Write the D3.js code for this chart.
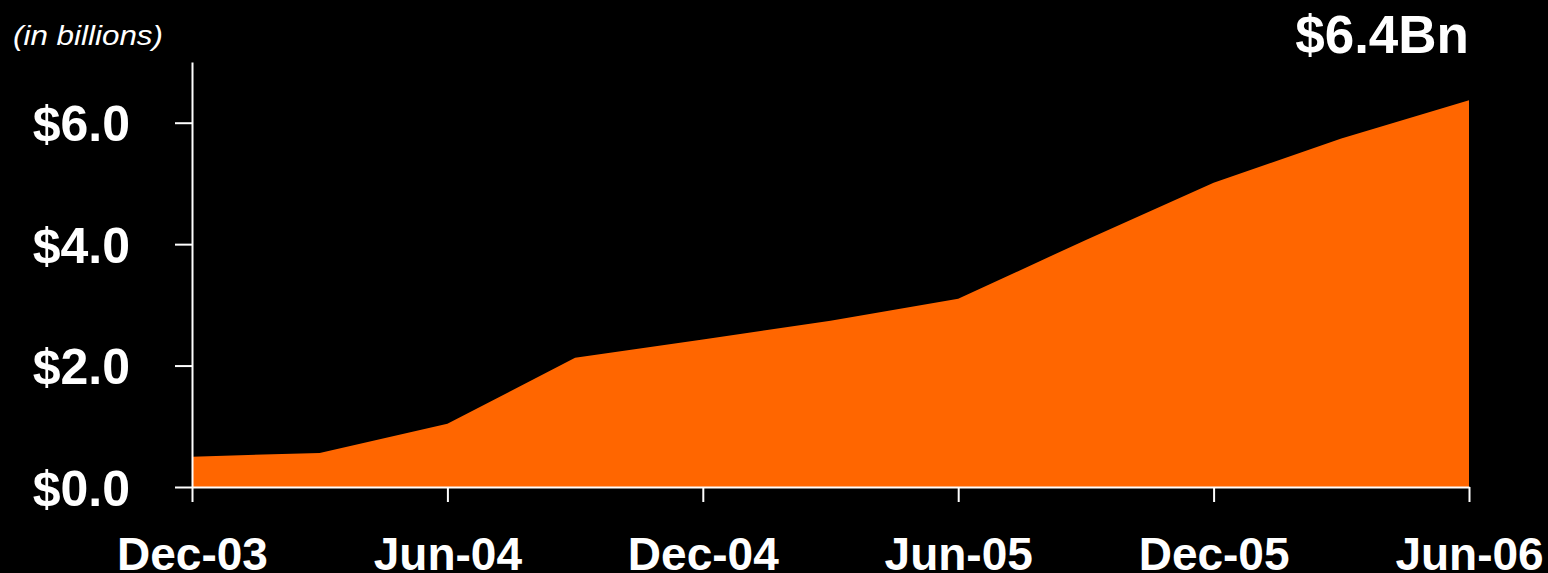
<!DOCTYPE html>
<html>
<head>
<meta charset="utf-8">
<script src="https://cdn.jsdelivr.net/npm/d3@7"></script>
<style>
  body { margin: 0; background: #000; }
  svg { display: block; font-family: "Liberation Sans", Arial, sans-serif; }
  .axis path, .axis line { stroke: #fff; stroke-width: 2; }
  .axis text { fill: #fff; font-weight: bold; }
</style>
</head>
<body>
<script>
const width = 1548,
  height = 573;

// Quarter ends, Dec-03 .. Jun-06
const quarters = ["Dec-03", "Mar-04", "Jun-04", "Sep-04", "Dec-04", "Mar-05",
  "Jun-05", "Sep-05", "Dec-05", "Mar-06", "Jun-06"];
const values = [0.5, 0.56, 1.04, 2.13, 2.43, 2.74, 3.1, 4.07, 5.01, 5.74, 6.37];
const xTickLabels = ["Dec-03", "Jun-04", "Dec-04", "Jun-05", "Dec-05", "Jun-06"];
const yTicks = [0, 2, 4, 6];

const data = quarters.map((q, i) => ({ q, v: values[i] }));

const x = d3.scalePoint().domain(quarters).range([192, 1469]);
const y = d3.scaleLinear().domain([0, 7]).range([487, 62]);

const svg = d3
  .select("body")
  .append("svg")
  .attr("width", width)
  .attr("height", height);

svg.append("rect").attr("width", width).attr("height", height).attr("fill", "#000");

// Filled area
const area = d3
  .area()
  .x((d) => x(d.q))
  .y0(y(0))
  .y1((d) => y(d.v));

svg.append("path").datum(data).attr("d", area).attr("fill", "#ff6600");

// Axes
svg
  .append("g")
  .attr("class", "axis")
  .attr("transform", `translate(${x(quarters[0])},0)`)
  .call(
    d3.axisLeft(y)
      .tickValues(yTicks)
      .tickSizeInner(17)
      .tickSizeOuter(0)
      .tickPadding(45)
      .tickFormat((d) => "$" + d.toFixed(1))
  )
  .call((g) => g.selectAll("text").style("font-size", "50px").attr("dy", "0.36em"));

svg
  .append("g")
  .attr("class", "axis")
  .attr("transform", `translate(0,${y(0)})`)
  .call(
    d3.axisBottom(x)
      .tickValues(xTickLabels)
      .tickSizeInner(15)
      .tickSizeOuter(0)
      .tickPadding(35)
  )
  .call((g) => g.selectAll("text").style("font-size", "46px"));

// Units note
svg
  .append("text")
  .attr("x", 13)
  .attr("y", 45)
  .attr("fill", "#fff")
  .attr("textLength", 150)
  .attr("lengthAdjust", "spacingAndGlyphs")
  .style("font-size", "28px")
  .style("font-style", "italic")
  .text("(in billions)");

// End value callout
svg
  .append("text")
  .attr("x", x(quarters[quarters.length - 1]))
  .attr("y", 53)
  .attr("text-anchor", "end")
  .attr("fill", "#fff")
  .style("font-size", "53px")
  .style("font-weight", "bold")
  .text("$6.4Bn");
</script>
</body>
</html>
